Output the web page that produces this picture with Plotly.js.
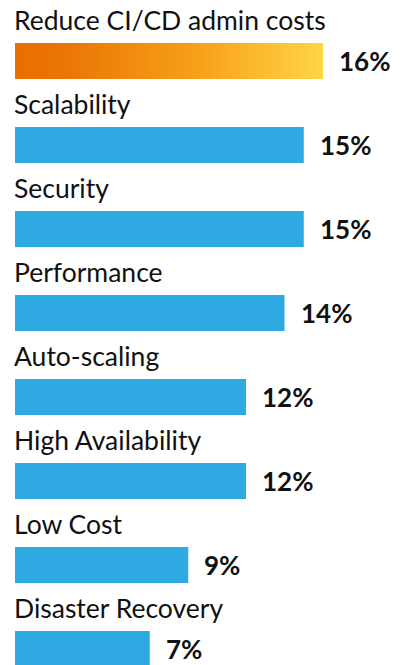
<!DOCTYPE html>
<html>
<head>
<meta charset="utf-8">
<script src="https://cdn.plot.ly/plotly-3.0.1.min.js"></script>
<style>
html,body{margin:0;padding:0;background:#fff;}
#chart{width:403px;height:665px;}
</style>
</head>
<body>
<div id="chart"></div>
<script>
var categories = ["Reduce CI/CD admin costs","Scalability","Security","Performance","Auto-scaling","High Availability","Low Cost","Disaster Recovery"];
var values = [16, 15, 15, 14, 12, 12, 9, 7];
var valueLabels = ["16%","15%","15%","14%","12%","12%","9%","7%"];

var idx = categories.map(function(_, i){ return i; });
var barColors = values.map(function(_, i){ return i === 0 ? "#F29312" : "#2EA9E1"; });
var halfW = 0.2143;

var traces = [{
  type: "bar",
  orientation: "h",
  x: values,
  y: idx,
  width: halfW * 2,
  marker: {color: barColors, line: {width: 0}},
  hoverinfo: "skip",
  showlegend: false
}, {
  type: "scatter",
  mode: "none",
  x: [0, values[0], values[0], 0, 0],
  y: [idx[0] - halfW, idx[0] - halfW, idx[0] + halfW, idx[0] + halfW, idx[0] - halfW],
  fill: "toself",
  fillgradient: {
    type: "horizontal",
    colorscale: [[0, "#E86F00"], [0.15, "#EA7404"], [0.6, "#F7A11A"], [1, "#FFD548"]]
  },
  hoverinfo: "skip",
  showlegend: false
}];

var annotations = [];
categories.forEach(function(c, i){
  annotations.push({
    x: 0, y: idx[i], xref: "x", yref: "y",
    text: c, showarrow: false,
    xanchor: "left", yanchor: "middle",
    xshift: -3, yshift: 41,
    font: {family: "Lato", size: 26.5, color: "#111111"}
  });
  annotations.push({
    x: values[i], y: idx[i], xref: "x", yref: "y",
    text: "<b>" + valueLabels[i] + "</b>", showarrow: false,
    xanchor: "left", yanchor: "middle",
    xshift: 14, yshift: 0,
    font: {family: "Lato", size: 26, color: "#111111"}
  });
});

var layout = {
  width: 403, height: 665,
  margin: {l: 15, r: 0, t: 0, b: 0, pad: 0},
  paper_bgcolor: "#ffffff",
  plot_bgcolor: "#ffffff",
  xaxis: {range: [0, 388 / 19.25], visible: false, fixedrange: true},
  yaxis: {range: [7.1905, -0.7262], visible: false, fixedrange: true},
  annotations: annotations,
  font: {family: "Lato"}
};

Plotly.newPlot("chart", traces, layout, {displayModeBar: false, staticPlot: true});
</script>
</body>
</html>
